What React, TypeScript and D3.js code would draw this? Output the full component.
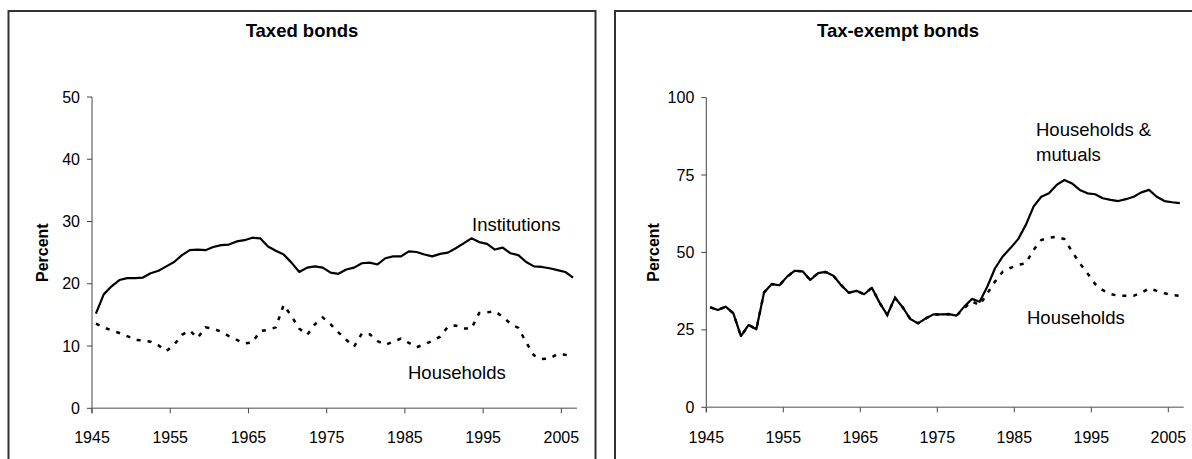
import React from 'react';
import * as d3 from 'd3';

// years 1945..2006, one value per year
const years = d3.range(1945, 2007);

const taxedInstitutions = [
  15.2, 18.3, 19.6, 20.6, 20.9, 20.9, 21.0, 21.7, 22.1, 22.8,
  23.5, 24.6, 25.4, 25.5, 25.4, 25.9, 26.2, 26.3, 26.8, 27.0,
  27.4, 27.3, 26.0, 25.3, 24.7, 23.4, 21.9, 22.6, 22.8, 22.6,
  21.8, 21.6, 22.3, 22.6, 23.3, 23.4, 23.1, 24.1, 24.4, 24.4,
  25.2, 25.1, 24.7, 24.4, 24.8, 25.0, 25.7, 26.5, 27.3, 26.7,
  26.4, 25.5, 25.8, 24.9, 24.6, 23.5, 22.8, 22.7, 22.5, 22.2,
  21.9, 21.0,
];

const taxedHouseholds = [
  13.6, 13.0, 12.5, 12.1, 11.6, 11.0, 10.9, 10.7, 10.1, 9.2,
  10.2, 11.8, 12.5, 11.3, 13.0, 12.8, 12.3, 11.6, 11.0, 10.4,
  10.6, 12.4, 12.6, 13.0, 16.6, 14.8, 12.8, 11.8, 13.5, 14.6,
  13.5, 12.2, 11.0, 9.9, 12.0, 11.9, 10.8, 10.2, 10.7, 11.2,
  10.5, 9.8, 10.3, 10.8, 11.5, 13.1, 13.3, 12.8, 12.8, 15.3,
  15.4, 15.6, 14.7, 13.6, 12.9, 10.6, 8.5, 7.9, 8.0, 8.7,
  8.6, 8.3,
];

const exemptHhMutuals = [
  32.3, 31.4, 32.5, 30.4, 23.0, 26.6, 25.2, 37.1, 39.8, 39.4,
  42.2, 44.1, 43.9, 41.1, 43.3, 43.7, 42.5, 39.5, 37.0, 37.6,
  36.5, 38.6, 33.8, 29.8, 35.4, 32.3, 28.5, 27.1, 28.7, 30.0,
  30.0, 30.1, 29.6, 32.5, 35.0, 34.1, 39.0, 44.9, 48.7, 51.4,
  54.3, 58.9, 64.8, 68.0, 69.1, 71.8, 73.4, 72.3, 70.2, 69.1,
  68.8, 67.5, 67.0, 66.6, 67.2, 68.0, 69.4, 70.2, 68.0, 66.6,
  66.2, 65.9,
];

const exemptHouseholds = [
  32.3, 31.4, 32.5, 30.4, 23.0, 26.6, 25.2, 37.1, 39.8, 39.4,
  42.2, 44.1, 43.9, 41.1, 43.3, 43.7, 42.5, 39.5, 37.0, 37.6,
  36.5, 38.6, 33.8, 29.8, 35.4, 32.3, 28.5, 27.1, 28.7, 30.0,
  30.0, 30.1, 29.6, 32.0, 34.2, 33.0, 36.8, 40.6, 43.8, 45.0,
  46.0, 46.5, 50.8, 54.0, 54.7, 55.1, 54.3, 50.3, 46.5, 43.3,
  39.8, 37.8, 36.6, 36.0, 36.0, 36.0, 37.0, 38.4, 37.6, 36.8,
  36.3, 36.0,
];

const xTicks = [1945, 1955, 1965, 1975, 1985, 1995, 2005];
const leftYTicks = [0, 10, 20, 30, 40, 50];
const rightYTicks = [0, 25, 50, 75, 100];

const FONT = 'Liberation Sans, Arial, Helvetica, sans-serif';

interface PanelProps {
  title: string;
  titleX: number;
  x0: number;
  x1: number;
  yTop: number;
  yBottom: number;
  yMax: number;
  yTicks: number[];
  solid: number[];
  dashed: number[];
  percentX: number;
  labels: { text: string[]; x: number; y: number }[];
}

const Panel: React.FC<PanelProps> = (p) => {
  const x = d3.scaleLinear().domain([1945, 2007]).range([p.x0, p.x1]);
  const y = d3.scaleLinear().domain([0, p.yMax]).range([p.yBottom, p.yTop]);
  const line = d3.line<number>()
    .x((_, i) => x(years[i] + 0.5))
    .y(d => y(d));

  return (
    <g fontFamily={FONT}>
      <text x={p.titleX} y={37} textAnchor="middle" fontWeight="bold" fontSize={18.5}>{p.title}</text>
      <text
        transform={`translate(${p.percentX},${(p.yTop + p.yBottom) / 2}) rotate(-90)`}
        textAnchor="middle" fontWeight="bold" fontSize={16}
      >Percent</text>

      {/* y axis */}
      <line x1={p.x0} x2={p.x0} y1={y(p.yMax)} y2={p.yBottom + 5} stroke="#444" strokeWidth={1} />
      {p.yTicks.map(t => (
        <g key={t}>
          <line x1={p.x0 - 5} x2={p.x0} y1={y(t)} y2={y(t)} stroke="#444" strokeWidth={1} />
          <text x={p.x0 - 12} y={y(t)} dy="0.35em" textAnchor="end" fontSize={16}>{t}</text>
        </g>
      ))}

      {/* x axis */}
      <line x1={p.x0} x2={p.x1} y1={p.yBottom} y2={p.yBottom} stroke="#888" strokeWidth={1.5} />
      {xTicks.map(t => (
        <g key={t}>
          <line x1={x(t)} x2={x(t)} y1={p.yBottom} y2={p.yBottom + 5} stroke="#444" strokeWidth={1} />
          <text x={x(t)} y={443} textAnchor="middle" fontSize={16}>{t}</text>
        </g>
      ))}

      <path d={line(p.dashed) || ''} fill="none" stroke="#000" strokeWidth={2.5} strokeDasharray="4,7" />
      <path d={line(p.solid) || ''} fill="none" stroke="#000" strokeWidth={2.2} strokeLinejoin="round" />

      {p.labels.map((l, i) => (
        <text key={i} x={l.x} y={l.y} fontSize={18.5}>
          {l.text.map((s, j) => (
            <tspan key={j} x={l.x} dy={j === 0 ? 0 : 25}>{s}</tspan>
          ))}
        </text>
      ))}
    </g>
  );
};

export default function App() {
  return (
    <svg width={1192} height={459} style={{ position: 'absolute', left: 0, top: 0, background: '#fff' }}>
      <rect x={0} y={0} width={1192} height={459} fill="#fff" />
      <rect x={8.5} y={11} width={587} height={470} fill="none" stroke="#333" strokeWidth={2} />
      <rect x={615} y={11} width={600} height={470} fill="none" stroke="#333" strokeWidth={2} />
      <Panel
        title="Taxed bonds" titleX={302}
        x0={92} x1={577} yTop={97} yBottom={408.3} yMax={50} yTicks={leftYTicks}
        solid={taxedInstitutions} dashed={taxedHouseholds} percentX={48}
        labels={[
          { text: ['Institutions'], x: 472, y: 231 },
          { text: ['Households'], x: 408, y: 379 },
        ]}
      />
      <Panel
        title="Tax-exempt bonds" titleX={898}
        x0={706.3} x1={1183.7} yTop={97.6} yBottom={407.3} yMax={100} yTicks={rightYTicks}
        solid={exemptHhMutuals} dashed={exemptHouseholds} percentX={659}
        labels={[
          { text: ['Households &', 'mutuals'], x: 1036, y: 136 },
          { text: ['Households'], x: 1027, y: 324 },
        ]}
      />
    </svg>
  );
}
